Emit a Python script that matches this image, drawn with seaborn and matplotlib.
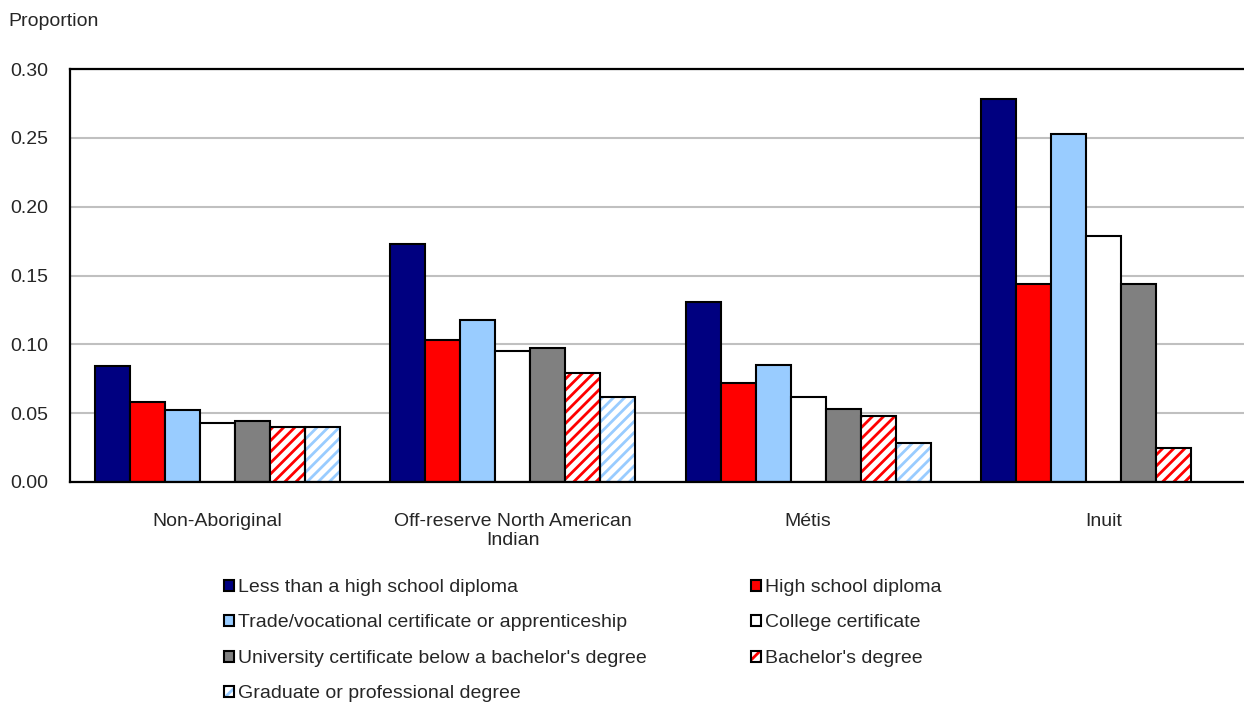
import matplotlib
matplotlib.use("Agg")
import matplotlib.pyplot as plt
from matplotlib.patches import Rectangle
import seaborn as sns
import pandas as pd
import numpy as np

# Categories (groups on the x axis) and education levels (hue)
groups = ["Non-Aboriginal", "Off-reserve North American\nIndian", "Métis", "Inuit"]
levels = [
    "Less than a high school diploma",
    "High school diploma",
    "Trade/vocational certificate or apprenticeship",
    "College certificate",
    "University certificate below a bachelor's degree",
    "Bachelor's degree",
    "Graduate or professional degree",
]

# Proportions, one list per education level
less_than_hs = [0.084, 0.173, 0.131, 0.278]
high_school = [0.058, 0.103, 0.072, 0.144]
trade_voc = [0.052, 0.118, 0.085, 0.253]
college = [0.043, 0.095, 0.062, 0.179]
univ_below_ba = [0.044, 0.097, 0.053, 0.144]
bachelor = [0.040, 0.079, 0.048, 0.025]
graduate = [0.040, 0.062, 0.028, np.nan]

series = [less_than_hs, high_school, trade_voc, college, univ_below_ba, bachelor, graduate]
colors = ["#000080", "#FF0000", "#99CCFF", "#FFFFFF", "#808080", "#FF0000", "#99CCFF"]
hatched = [False, False, False, False, False, True, True]

rows = []
for lev, vals in zip(levels, series):
    for g, v in zip(groups, vals):
        rows.append({"group": g, "level": lev, "value": v})
df = pd.DataFrame(rows).dropna()

sns.set_style("white")
plt.rcParams["font.family"] = ["Liberation Sans", "DejaVu Sans"]
plt.rcParams["hatch.linewidth"] = 2.0

fs = 14

fig = plt.figure(figsize=(12.44, 7.03), dpi=100)
ax = fig.add_axes([70 / 1244, 1 - 482 / 703, 1181 / 1244, 413 / 703])

sns.barplot(
    data=df, x="group", y="value", hue="level",
    order=groups, hue_order=levels,
    palette=dict(zip(levels, colors)),
    saturation=1, width=0.83,
    edgecolor="black", linewidth=1.5,
    legend=False, ax=ax,
)

# Hatched bars: coloured stripes on white, black outline on top
handles = []
for cont, col, hat, lev in zip(ax.containers, colors, hatched, levels):
    if hat:
        for bar in cont:
            bar.set_facecolor("white")
            bar.set_edgecolor(col)
            bar.set_hatch("///")
            bar.set_linewidth(0)
            ax.add_patch(Rectangle(bar.get_xy(), bar.get_width(), bar.get_height(),
                                   fill=False, edgecolor="black", lw=1.5, zorder=bar.get_zorder() + 0.1))
        h = (Rectangle((0, 0), 1, 1, facecolor="white", edgecolor=col, hatch="///", lw=0),
             Rectangle((0, 0), 1, 1, fill=False, edgecolor="black", lw=1.5))
    else:
        h = Rectangle((0, 0), 1, 1, facecolor=col, edgecolor="black", lw=1.5)
    handles.append(h)

ax.set_ylim(0, 0.30)
ax.set_yticks(np.arange(0, 0.301, 0.05))
ax.set_yticklabels([f"{t:.2f}" for t in np.arange(0, 0.301, 0.05)])
ax.yaxis.grid(True, color="#C0C0C0", lw=1.5)
ax.set_axisbelow(True)
ax.set_xlabel("")
ax.set_ylabel("")
ax.tick_params(axis="y", length=0, labelsize=fs, pad=16)
ax.tick_params(axis="x", length=0, labelsize=fs, pad=22)
for side in ["left", "bottom", "top"]:
    ax.spines[side].set_visible(True)
    ax.spines[side].set_color("black")
    ax.spines[side].set_linewidth(1.6)
ax.spines["right"].set_visible(False)

fig.text(8 / 1244, 1 - 22 / 703, "Proportion", fontsize=fs, va="center", ha="left")

# Legend filled column-wise, so reorder to read row-wise like the original
order = [0, 2, 4, 6, 1, 3, 5]
fig.legend(
    [handles[i] for i in order], [levels[i] for i in order],
    ncol=2, loc="upper left", bbox_to_anchor=(224 / 1244, 1 - 579 / 703),
    frameon=False, fontsize=fs, handlelength=0.5, handleheight=0.5,
    handletextpad=0.2, labelspacing=0.95, columnspacing=5.4,
    borderpad=0, borderaxespad=0,
)

fig.savefig("out.png", dpi=100)
